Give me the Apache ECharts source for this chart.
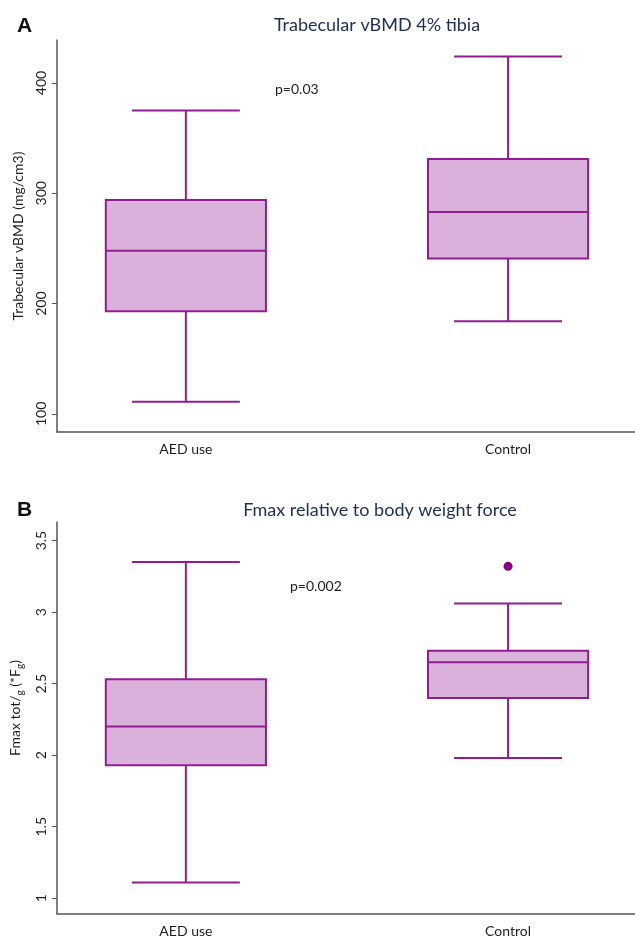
<!DOCTYPE html>
<html><head><meta charset="utf-8">
<script src="https://cdn.jsdelivr.net/npm/echarts@6/dist/echarts.min.js"></script>
<style>html,body{margin:0;padding:0;background:#fff}#c{width:635px;height:938px}</style>
</head><body><div id="c"></div>
<script>
const categories = ['AED use', 'Control'];
const catPos = [1, 2];
// Panel A: Trabecular vBMD (mg/cm3)
const aMin = [111, 184];
const aQ1 = [193, 241];
const aMed = [248, 283];
const aQ3 = [294, 331];
const aMax = [375, 424];
const aTicks = [100, 200, 300, 400];
// Panel B: Fmax relative to body weight force
const bMin = [1.11, 1.98];
const bQ1 = [1.93, 2.40];
const bMed = [2.20, 2.65];
const bQ3 = [2.53, 2.73];
const bMax = [3.35, 3.06];
const bOutlierCat = ['Control'];
const bOutlierVal = [3.32];
const bTicks = [1, 1.5, 2, 2.5, 3, 3.5];

const FONT = 'Lato, "Open Sans", sans-serif';
const STROKE = '#921d92';
const FILL = '#dab1da';
const AXIS = '#555555';
const TXT = '#1e1e1e';
const BOX_W = 0.497, CAP_W = 0.335;

function boxData(mn, q1, md, q3, mx) {
  return categories.map((c, i) => [catPos[i], mn[i], q1[i], md[i], q3[i], mx[i]]);
}
function renderBox(params, api) {
  const x = api.value(0);
  const lo = api.coord([x, api.value(1)]);
  const p1 = api.coord([x, api.value(2)]);
  const pm = api.coord([x, api.value(3)]);
  const p3 = api.coord([x, api.value(4)]);
  const hi = api.coord([x, api.value(5)]);
  const bw = api.size([BOX_W, 0])[0];
  const cw = api.size([CAP_W, 0])[0];
  const cx = lo[0];
  const ls = { stroke: STROKE, lineWidth: 2 };
  return { type: 'group', children: [
    { type: 'line', shape: { x1: cx, y1: p3[1], x2: cx, y2: hi[1] }, style: ls },
    { type: 'line', shape: { x1: cx, y1: p1[1], x2: cx, y2: lo[1] }, style: ls },
    { type: 'line', shape: { x1: cx - cw / 2, y1: hi[1], x2: cx + cw / 2, y2: hi[1] }, style: ls },
    { type: 'line', shape: { x1: cx - cw / 2, y1: lo[1], x2: cx + cw / 2, y2: lo[1] }, style: ls },
    { type: 'rect', shape: { x: cx - bw / 2, y: p3[1], width: bw, height: p1[1] - p3[1] }, style: { fill: FILL, stroke: STROKE, lineWidth: 2 } },
    { type: 'line', shape: { x1: cx - bw / 2, y1: pm[1], x2: cx + bw / 2, y2: pm[1] }, style: ls }
  ]};
}
function xAxisCfg(gi) {
  return {
    type: 'value', gridIndex: gi, min: 0.6, max: 2.394,
    axisLine: { show: true, lineStyle: { color: AXIS, width: 1.5 } },
    axisTick: { show: false },
    splitLine: { show: false },
    axisLabel: { customValues: catPos, formatter: v => categories[catPos.indexOf(v)] || '', color: TXT, fontFamily: FONT, fontSize: 14, margin: 10 }
  };
}
function yAxisCfg(gi, mn, mx, ticks, name, nameRich, namePad) {
  return {
    type: 'value', gridIndex: gi, min: mn, max: mx,
    name: name, nameLocation: 'middle', nameGap: 32, nameRotate: 90,
    nameTextStyle: { color: TXT, fontFamily: FONT, fontSize: 14, rich: nameRich, padding: namePad },
    axisLine: { show: true, lineStyle: { color: AXIS, width: 1.5 } },
    axisTick: { show: true, length: 5, customValues: ticks, lineStyle: { color: AXIS } },
    splitLine: { show: false },
    axisLabel: { customValues: ticks, rotate: 90, color: TXT, fontFamily: FONT, fontSize: 14, margin: 9 }
  };
}
const chart = echarts.init(document.getElementById('c'));
chart.setOption({
  animation: false,
  backgroundColor: '#fff',
  title: [
    { text: 'Trabecular vBMD 4% tibia', left: 372, top: 11, textAlign: 'center', textStyle: { color: '#1f2d5a', fontFamily: FONT, fontSize: 18, fontWeight: 'normal' } },
    { text: 'Fmax relative to body weight force', left: 375, top: 496, textAlign: 'center', textStyle: { color: '#1f2d5a', fontFamily: FONT, fontSize: 18, fontWeight: 'normal' } },
    { text: 'A', left: 12, top: 11, textStyle: { color: '#111', fontFamily: '"Liberation Sans", Arial, sans-serif', fontSize: 21, fontWeight: 'bold' } },
    { text: 'B', left: 12, top: 495, textStyle: { color: '#111', fontFamily: '"Liberation Sans", Arial, sans-serif', fontSize: 21, fontWeight: 'bold' } }
  ],
  graphic: [
    { type: 'text', left: 275, top: 82, style: { text: 'p=0.03', fill: TXT, font: '14px ' + FONT } },
    { type: 'text', left: 290, top: 579, style: { text: 'p=0.002', fill: TXT, font: '14px ' + FONT } }
  ],
  grid: [
    { left: 57, right: 0, top: 40, height: 392 },
    { left: 57, right: 0, top: 522, height: 393 }
  ],
  xAxis: [xAxisCfg(0), xAxisCfg(1)],
  yAxis: [
    yAxisCfg(0, 83.6, 439, aTicks, 'Trabecular vBMD (mg/cm3)', {}, [0, 0, 0, 0]),
    yAxisCfg(1, 0.89, 3.63, bTicks, '{n|Fmax tot/}{s|g}{n| (*F}{s|g}{n|)}', {
      n: { fontSize: 14, fontFamily: FONT, color: TXT, lineHeight: 20 },
      s: { fontSize: 10, fontFamily: FONT, color: TXT, verticalAlign: 'bottom' }
    }, [0, 0, 0, 20])
  ],
  series: [
    { type: 'custom', xAxisIndex: 0, yAxisIndex: 0, renderItem: renderBox, data: boxData(aMin, aQ1, aMed, aQ3, aMax) },
    { type: 'custom', xAxisIndex: 1, yAxisIndex: 1, renderItem: renderBox, data: boxData(bMin, bQ1, bMed, bQ3, bMax) },
    { type: 'scatter', xAxisIndex: 1, yAxisIndex: 1, symbol: 'circle', symbolSize: 9, itemStyle: { color: '#850085', opacity: 1 },
      data: bOutlierCat.map((c, i) => [catPos[categories.indexOf(c)], bOutlierVal[i]]) }
  ]
});
</script></body></html>
